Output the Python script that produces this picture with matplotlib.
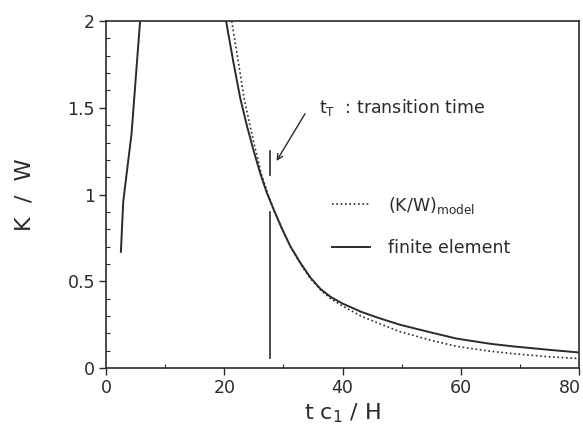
import numpy as np
import matplotlib
matplotlib.use("Agg")
import matplotlib.pyplot as plt
from matplotlib.ticker import MultipleLocator
from matplotlib.transforms import ScaledTranslation

# early branch of the finite element curve
fe_left_x = [2.5, 2.9, 4.3, 5.75]
fe_left_y = [0.67, 0.96, 1.35, 2.0]

# finite element curve after the peak
fe_x = [20.3, 21.5, 22.7, 23.8, 24.9, 26.1, 27.2, 28.4, 29.8, 31.2, 32.9, 34.6,
        36.3, 38.0, 40.0, 43.1, 46.0, 49.7, 55.0, 59.3, 65.0, 68.9, 75.0, 80.0]
fe_y = [2.0, 1.77, 1.555, 1.40, 1.26, 1.12, 1.01, 0.91, 0.80, 0.70, 0.605, 0.52,
        0.455, 0.41, 0.372, 0.325, 0.29, 0.25, 0.205, 0.17, 0.14, 0.125, 0.105, 0.09]

# model curve (K/W)_model
model_x = [21.25, 22.3, 23.35, 24.2, 25.2, 26.3, 27.3, 28.4, 29.8, 31.2, 32.9, 34.6,
           36.3, 38.0, 40.0, 43.1, 46.0, 49.7, 55.0, 59.3, 65.0, 68.9, 75.0, 80.0]
model_y = [2.0, 1.78, 1.555, 1.42, 1.27, 1.115, 1.01, 0.91, 0.80, 0.70, 0.60, 0.515,
           0.45, 0.40, 0.358, 0.30, 0.26, 0.21, 0.16, 0.125, 0.097, 0.083, 0.065, 0.055]

# transition time marker
t_T = 27.7
marker_low = (0.06, 0.90)
marker_high = (1.11, 1.25)

x_ticks = [0, 20, 40, 60, 80]
x_labels = ["0", "20", "40", "60", "80"]
y_ticks = [0, 0.5, 1, 1.5, 2]
y_labels = ["0", "0.5", "1", "1.5", "2"]

ink = "#2b2b2b"
plt.rcParams["font.family"] = ["DejaVu Sans"]
plt.rcParams["mathtext.fontset"] = "dejavusans"

fig = plt.figure(figsize=(5.83, 4.30), dpi=100)
ax = fig.add_axes([0.182, 0.144, 0.811, 0.807])

ax.plot(model_x, model_y, color=ink, lw=1.2, ls=(0, (1, 1.6)), label=r"(K/W)$_{\mathrm{model}}$")
ax.plot(fe_x, fe_y, color=ink, lw=1.4, label="finite element")
ax.plot(fe_left_x, fe_left_y, color=ink, lw=1.4)

ax.plot([t_T, t_T], marker_low, color=ink, lw=1.2)
ax.plot([t_T, t_T], marker_high, color=ink, lw=1.2)

ax.annotate("", xy=(28.6, 1.18), xytext=(33.9, 1.48),
            arrowprops=dict(arrowstyle="->", color=ink, lw=1.0))
ax.text(36.0, 1.5, r"t$_{\mathrm{T}}$  : transition time", fontsize=12.5,
        color=ink, va="center", ha="left")

ax.set_xlim(0, 80)
ax.set_ylim(0, 2)
ax.set_xticks(x_ticks)
ax.set_xticklabels(x_labels)
ax.set_yticks(y_ticks)
ax.set_yticklabels(y_labels)
ax.xaxis.set_minor_locator(MultipleLocator(10))
ax.yaxis.set_minor_locator(MultipleLocator(0.1))
ax.tick_params(which="major", direction="out", length=5, width=1, colors=ink,
               labelsize=12.5, pad=3)
ax.tick_params(which="minor", direction="in", length=3, width=0.8, colors=ink)
for s in ax.spines.values():
    s.set_color(ink)
    s.set_linewidth(1.2)

# keep the last x label inside the picture
for lab in ax.get_xticklabels():
    if lab.get_text() == "80":
        lab.set_horizontalalignment("right")
        lab.set_transform(lab.get_transform() + ScaledTranslation(2 / 100, 0, fig.dpi_scale_trans))

ax.set_xlabel(r"t c$_1$ / H", fontsize=16, color=ink, labelpad=3)
ax.set_ylabel("K  /  W", fontsize=16, color=ink, labelpad=24)

ax.legend(loc="upper left", bbox_to_anchor=(0.478, 0.50), frameon=False,
          fontsize=12.5, handlelength=2.2, handletextpad=1.0, labelspacing=1.35,
          borderpad=0, borderaxespad=0, labelcolor=ink)

fig.savefig("out.png", dpi=100)
